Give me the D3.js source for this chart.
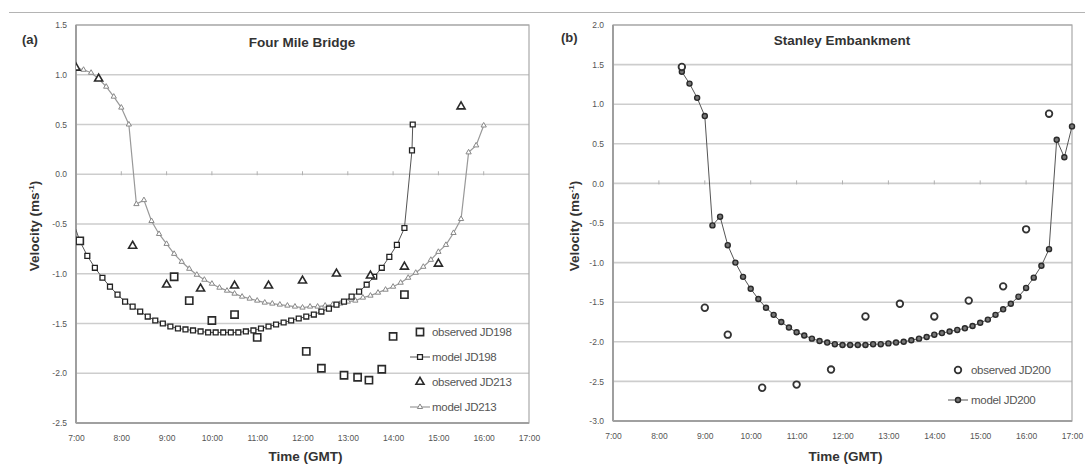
<!DOCTYPE html>
<html><head><meta charset="utf-8">
<script src="https://cdn.jsdelivr.net/npm/d3@7"></script>
<style>
body{margin:0;background:#fff;}
svg{font-family:"Liberation Sans",Arial,sans-serif;}
</style></head>
<body>
<svg id="chart" width="1085" height="470"></svg>
<script>
// ---------- DATA ----------
const hourTicks = ["7:00","8:00","9:00","10:00","11:00","12:00","13:00","14:00","15:00","16:00","17:00"];
const yTicksA = [1.5,1.0,0.5,0.0,-0.5,-1.0,-1.5,-2.0,-2.5];
const yTicksB = [2.0,1.5,1.0,0.5,0.0,-0.5,-1.0,-1.5,-2.0,-2.5,-3.0];

// Panel (a) Four Mile Bridge
const obs198Time = ["7:05","9:10","9:30","10:00","10:30","11:00","12:05","12:25","12:55","13:13","13:28","13:45","14:00","14:15"];
const obs198Vel  = [-0.67,-1.03,-1.27,-1.47,-1.41,-1.64,-1.78,-1.95,-2.02,-2.04,-2.07,-1.96,-1.63,-1.21];

const mod198Time = ["6:55","7:05","7:15","7:25","7:35","7:45","7:55","8:05","8:15","8:25","8:35","8:45","8:55",
  "9:05","9:15","9:25","9:35","9:45","9:55","10:05","10:15","10:25","10:35","10:45","10:55",
  "11:05","11:15","11:25","11:35","11:45","11:55","12:05","12:15","12:25","12:35","12:45","12:55",
  "13:05","13:15","13:25","13:35","13:45","13:55","14:05","14:15","14:25","14:26"];
const mod198Vel  = [-0.45,-0.67,-0.82,-0.94,-1.04,-1.13,-1.21,-1.28,-1.33,-1.38,-1.43,-1.47,-1.50,
  -1.53,-1.55,-1.56,-1.57,-1.58,-1.59,-1.59,-1.59,-1.59,-1.59,-1.58,-1.57,
  -1.55,-1.53,-1.51,-1.49,-1.47,-1.45,-1.43,-1.41,-1.38,-1.35,-1.31,-1.28,
  -1.23,-1.18,-1.11,-1.03,-0.94,-0.83,-0.71,-0.54,0.24,0.50];

const obs213Time = ["7:00","7:30","8:15","9:00","9:45","10:30","11:15","12:00","12:45","13:30","14:15","15:00","15:30"];
const obs213Vel  = [1.07,0.96,-0.72,-1.11,-1.15,-1.12,-1.12,-1.07,-1.00,-1.02,-0.93,-0.90,0.68];

const mod213Time = ["7:00","7:10","7:20","7:30","7:40","7:50","8:00","8:10","8:20","8:30","8:40","8:50",
  "9:00","9:10","9:20","9:30","9:40","9:50","10:00","10:10","10:20","10:30","10:40","10:50",
  "11:00","11:10","11:20","11:30","11:40","11:50","12:00","12:10","12:20","12:30","12:40","12:50",
  "13:00","13:10","13:20","13:30","13:40","13:50","14:00","14:10","14:20","14:30","14:40","14:50",
  "15:00","15:10","15:20","15:30","15:40","15:50","16:00"];
const mod213Vel  = [1.07,1.05,1.02,0.96,0.88,0.78,0.67,0.50,-0.30,-0.26,-0.47,-0.60,
  -0.70,-0.80,-0.88,-0.95,-1.01,-1.06,-1.10,-1.14,-1.17,-1.20,-1.23,-1.25,
  -1.27,-1.29,-1.30,-1.31,-1.32,-1.33,-1.34,-1.33,-1.33,-1.32,-1.31,-1.30,
  -1.28,-1.27,-1.24,-1.22,-1.19,-1.16,-1.13,-1.09,-1.04,-0.99,-0.93,-0.86,
  -0.78,-0.71,-0.59,-0.45,0.22,0.29,0.49];

// Panel (b) Stanley Embankment
const obs200Time = ["8:30","9:00","9:30","10:15","11:00","11:45","12:30","13:15","14:00","14:45","15:30","16:00","16:30"];
const obs200Vel  = [1.47,-1.57,-1.91,-2.58,-2.54,-2.35,-1.68,-1.52,-1.68,-1.48,-1.30,-0.58,0.88];

const mod200Time = ["8:30","8:40","8:50","9:00","9:10","9:20","9:30","9:40","9:50","10:00","10:10","10:20",
  "10:30","10:40","10:50","11:00","11:10","11:20","11:30","11:40","11:50","12:00","12:10","12:20",
  "12:30","12:40","12:50","13:00","13:10","13:20","13:30","13:40","13:50","14:00","14:10","14:20",
  "14:30","14:40","14:50","15:00","15:10","15:20","15:30","15:40","15:50","16:00","16:10","16:20",
  "16:30","16:40","16:50","17:00"];
const mod200Vel  = [1.41,1.26,1.08,0.85,-0.53,-0.42,-0.78,-1.00,-1.18,-1.33,-1.46,-1.57,
  -1.66,-1.75,-1.82,-1.88,-1.92,-1.96,-1.99,-2.01,-2.03,-2.04,-2.04,-2.04,
  -2.04,-2.03,-2.03,-2.02,-2.01,-2.00,-1.98,-1.96,-1.94,-1.91,-1.89,-1.87,
  -1.85,-1.83,-1.80,-1.76,-1.72,-1.66,-1.59,-1.52,-1.43,-1.32,-1.19,-1.04,
  -0.83,0.55,0.33,0.72];

// ---------- HELPERS ----------
const hrs = s => { const [h,m] = s.split(":").map(Number); return h + m/60; };
const zip = (t,v) => t.map((s,i)=>({t:hrs(s), v:v[i]}));
const svg = d3.select("#chart");

// top separator
svg.append("line").attr("x1",9).attr("x2",1085).attr("y1",12.5).attr("y2",12.5)
  .attr("stroke","#b4b4b4").attr("stroke-width",1);

function panel(cfg){
  const x = d3.scaleLinear().domain([7,17]).range([cfg.left,cfg.right]);
  const y = d3.scaleLinear().domain(cfg.yDomain).range([cfg.bottom,cfg.top]);
  const g = svg.append("g");
  const clipId = "clip"+cfg.id;
  g.append("clipPath").attr("id",clipId).append("rect")
    .attr("x",cfg.left).attr("y",cfg.top-10).attr("width",cfg.right-cfg.left+10).attr("height",cfg.bottom-cfg.top+10);

  // grid
  g.append("g").selectAll("line").data(cfg.yTicks).join("line")
    .attr("x1",cfg.left).attr("x2",cfg.right)
    .attr("y1",d=>y(d)).attr("y2",d=>y(d))
    .attr("stroke","#cdcdcd").attr("stroke-width",1.6);
  // border
  g.append("rect").attr("x",cfg.left).attr("y",y(cfg.yDomain[1])).attr("width",cfg.right-cfg.left)
    .attr("height",cfg.bottom-y(cfg.yDomain[1])).attr("fill","none").attr("stroke","#a8a8a8").attr("stroke-width",1.2);
  g.append("line").attr("x1",cfg.left).attr("x2",cfg.left).attr("y1",cfg.top).attr("y2",cfg.bottom)
    .attr("stroke","#9a9a9a").attr("stroke-width",1.8);
  g.append("line").attr("x1",cfg.left).attr("x2",cfg.right).attr("y1",cfg.bottom).attr("y2",cfg.bottom)
    .attr("stroke","#a0a0a0").attr("stroke-width",1.8);

  // y axis labels
  const ya = d3.axisLeft(y).tickValues(cfg.yTicks).tickFormat(d3.format(".1f")).tickSize(0).tickPadding(cfg.left-cfg.ylabRight);
  const yg = g.append("g").attr("transform",`translate(${cfg.left},0)`).call(ya);
  yg.select(".domain").remove();
  yg.selectAll("text").attr("fill","#555").style("font-size","8.5px").text(d=>d3.format(".1f")(d).replace("−","-"));

  // x axis labels at bottom
  const xa = d3.axisBottom(x).tickValues(hourTicks.map(hrs)).tickFormat(d=>Math.round(d)+":00").tickSize(0).tickPadding(12);
  const xg = g.append("g").attr("transform",`translate(0,${cfg.bottom})`).call(xa);
  xg.select(".domain").remove();
  xg.selectAll("text").attr("fill","#555").style("font-size","8.5px");

  // minor tick marks on zero line
  g.append("g").selectAll("line").data(hourTicks.map(hrs).slice(1,-1)).join("line")
    .attr("x1",d=>x(d)).attr("x2",d=>x(d)).attr("y1",y(0)-3).attr("y2",y(0)+1)
    .attr("stroke","#b0b0b0").attr("stroke-width",1);

  // titles
  svg.append("text").attr("x",cfg.tagX).attr("y",cfg.tagY).text(cfg.tag)
    .attr("font-weight","bold").attr("font-size","13px").attr("fill","#333");
  svg.append("text").attr("x",cfg.titleX).attr("y",cfg.titleY).attr("text-anchor","middle").text(cfg.title)
    .attr("font-weight","bold").attr("font-size","13.5px").attr("fill","#333");
  svg.append("text").attr("x",(cfg.left+cfg.right)/2+3).attr("y",461).attr("text-anchor","middle").text("Time (GMT)")
    .attr("font-weight","bold").attr("font-size","13.5px").attr("fill","#333");
  const yl = svg.append("text").attr("transform",`translate(${cfg.ylabX},226) rotate(-90)`).attr("text-anchor","middle")
    .attr("font-weight","bold").attr("font-size","13.5px").attr("fill","#333");
  yl.append("tspan").text("Velocity (ms");
  yl.append("tspan").text("-1").attr("font-size","8px").attr("dy","-5");
  yl.append("tspan").text(")").attr("dy","5");

  const plot = g.append("g").attr("clip-path",`url(#${clipId})`);
  return {x,y,g,plot};
}

const sym = (type,size) => d3.symbol().type(type).size(size)();

function drawSeries(p, data, st){
  if (st.line){
    p.plot.append("path").datum(data)
      .attr("d", d3.line().x(d=>p.x(d.t)).y(d=>p.y(d.v)))
      .attr("fill","none").attr("stroke",st.line).attr("stroke-width",st.lw||1);
  }
  p.plot.append("g").selectAll("path").data(data).join("path")
    .attr("d", sym(st.type, st.size))
    .attr("transform", d=>`translate(${p.x(d.t)},${p.y(d.v)})`)
    .attr("fill",st.fill).attr("stroke",st.stroke).attr("stroke-width",st.sw);
}

function legend(items, mx, textX, rows){
  items.forEach((it,i)=>{
    const yy = rows[i];
    if (it.st.line){
      svg.append("line").attr("x1",mx-10).attr("x2",mx+10).attr("y1",yy).attr("y2",yy)
        .attr("stroke",it.st.line).attr("stroke-width",it.st.lw||1);
    }
    svg.append("path").attr("d",sym(it.st.type,it.st.size)).attr("transform",`translate(${mx},${yy})`)
      .attr("fill",it.st.fill).attr("stroke",it.st.stroke).attr("stroke-width",it.st.sw);
    svg.append("text").attr("x",textX).attr("y",yy+4).text(it.label)
      .attr("font-size","11.5px").attr("fill","#555").attr("letter-spacing","-0.3px");
  });
}

// ---------- PANEL A ----------
const pa = panel({id:"a", left:76, right:529, top:25, bottom:423, yDomain:[-2.5,1.5], yTicks:yTicksA,
  ylabRight:67, tag:"(a)", tagX:22, tagY:44, title:"Four Mile Bridge", titleX:302, titleY:47, ylabX:39});
const stObs198 = {type:d3.symbolSquare, size:52, fill:"#fff", stroke:"#2a2a2a", sw:1.6};
const stMod198 = {type:d3.symbolSquare, size:24, fill:"#fff", stroke:"#222", sw:1.3, line:"#555", lw:1};
const stObs213 = {type:d3.symbolTriangle, size:28, fill:"#fff", stroke:"#2a2a2a", sw:1.6};
const stMod213 = {type:d3.symbolTriangle, size:12, fill:"#fff", stroke:"#888", sw:1, line:"#999", lw:1.2};
drawSeries(pa, zip(mod213Time,mod213Vel), stMod213);
drawSeries(pa, zip(mod198Time,mod198Vel), stMod198);
drawSeries(pa, zip(obs198Time,obs198Vel), stObs198);
drawSeries(pa, zip(obs213Time,obs213Vel), stObs213);
legend([{label:"observed JD198",st:stObs198},{label:"model JD198",st:stMod198},
        {label:"observed JD213",st:stObs213},{label:"model JD213",st:stMod213}], 420, 432, [332,357,382,407]);

// ---------- PANEL B ----------
const pb = panel({id:"b", left:613, right:1072, top:25, bottom:421, yDomain:[-3.0,2.0], yTicks:yTicksB,
  ylabRight:604, tag:"(b)", tagX:561, tagY:42, title:"Stanley Embankment", titleX:842, titleY:45, ylabX:579});
const stObs200 = {type:d3.symbolCircle, size:34, fill:"#fff", stroke:"#333", sw:1.8};
const stMod200 = {type:d3.symbolCircle, size:20, fill:"#777", stroke:"#2a2a2a", sw:1.4, line:"#555", lw:1};
drawSeries(pb, zip(mod200Time,mod200Vel), stMod200);
drawSeries(pb, zip(obs200Time,obs200Vel), stObs200);
legend([{label:"observed JD200",st:stObs200},{label:"model JD200",st:stMod200}], 958, 971, [370,400]);
</script>
</body></html>
